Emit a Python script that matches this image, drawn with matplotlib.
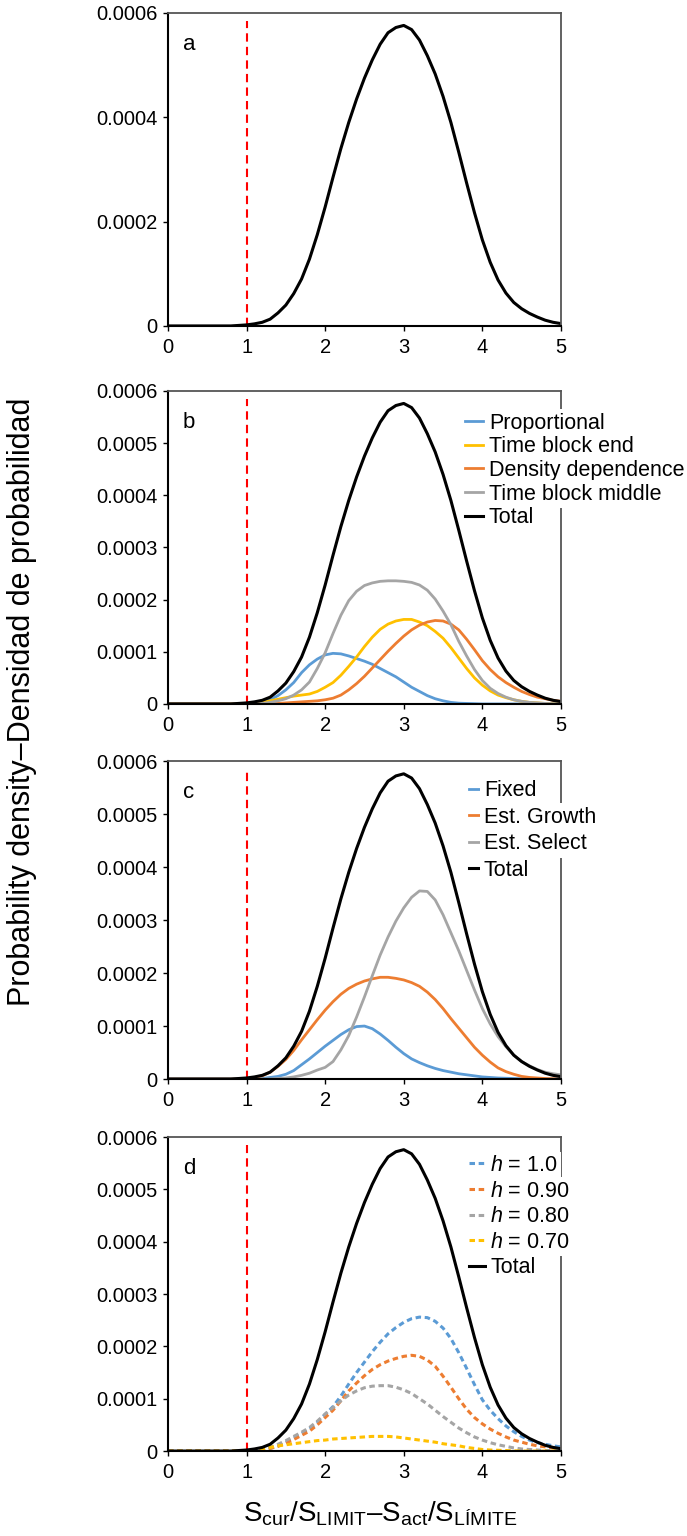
import matplotlib
matplotlib.use("Agg")
import matplotlib.pyplot as plt

plt.rcParams["font.family"] = ["Liberation Sans", "DejaVu Sans"]
plt.rcParams["mathtext.fontset"] = "custom"
plt.rcParams["mathtext.rm"] = "Liberation Sans"
plt.rcParams["mathtext.it"] = "Liberation Sans:italic"

# x grid (step 0.1)
x_vals = [
    0.0, 0.1, 0.2, 0.3, 0.4, 0.5, 0.6, 0.7, 0.8, 0.9,
    1.0, 1.1, 1.2, 1.3, 1.4, 1.5, 1.6, 1.7, 1.8, 1.9,
    2.0, 2.1, 2.2, 2.3, 2.4, 2.5, 2.6, 2.7, 2.8, 2.9,
    3.0, 3.1, 3.2, 3.3, 3.4, 3.5, 3.6, 3.7, 3.8, 3.9,
    4.0, 4.1, 4.2, 4.3, 4.4, 4.5, 4.6, 4.7, 4.8, 4.9,
    5.0,
]

# densities, in units of 1e-4
total = [
    0, 0, 0, 0, 0, 0, 0, 0, 0, 0.01,
    0.02, 0.04, 0.07, 0.13, 0.25, 0.40, 0.62, 0.90, 1.28, 1.75,
    2.28, 2.85, 3.40, 3.90, 4.35, 4.75, 5.10, 5.40, 5.62, 5.72,
    5.76, 5.68, 5.48, 5.18, 4.83, 4.40, 3.90, 3.33, 2.74, 2.17,
    1.65, 1.22, 0.88, 0.63, 0.45, 0.33, 0.24, 0.17, 0.11, 0.07,
    0.045,
]

b_proportional = [
    0, 0, 0, 0, 0, 0, 0, 0, 0, 0,
    0, 0.01, 0.03, 0.08, 0.16, 0.27, 0.41, 0.60, 0.75, 0.86,
    0.94, 0.97, 0.96, 0.92, 0.87, 0.82, 0.76, 0.68, 0.60, 0.52,
    0.42, 0.32, 0.24, 0.16, 0.10, 0.06, 0.03, 0.015, 0.01, 0.005,
    0, 0, 0, 0, 0, 0, 0, 0, 0, 0,
    0,
]
b_time_end = [
    0, 0, 0, 0, 0, 0, 0, 0, 0, 0,
    0, 0.01, 0.03, 0.06, 0.09, 0.12, 0.15, 0.17, 0.19, 0.24,
    0.32, 0.41, 0.55, 0.72, 0.90, 1.10, 1.28, 1.43, 1.53, 1.59,
    1.62, 1.62, 1.57, 1.50, 1.39, 1.26, 1.08, 0.88, 0.68, 0.50,
    0.36, 0.25, 0.17, 0.12, 0.08, 0.05, 0.03, 0.02, 0.01, 0.005,
    0,
]
b_density = [
    0, 0, 0, 0, 0, 0, 0, 0, 0, 0,
    0, 0, 0, 0.01, 0.01, 0.02, 0.03, 0.04, 0.05, 0.06,
    0.08, 0.11, 0.17, 0.27, 0.39, 0.53, 0.69, 0.85, 1.01, 1.16,
    1.30, 1.42, 1.51, 1.57, 1.60, 1.59, 1.53, 1.42, 1.24, 1.04,
    0.83, 0.66, 0.52, 0.41, 0.32, 0.24, 0.18, 0.13, 0.10, 0.07,
    0.05,
]
b_time_mid = [
    0, 0, 0, 0, 0, 0, 0, 0, 0, 0,
    0, 0, 0.01, 0.03, 0.06, 0.10, 0.17, 0.27, 0.42, 0.68,
    0.98, 1.35, 1.70, 1.98, 2.16, 2.27, 2.32, 2.35, 2.36, 2.36,
    2.35, 2.33, 2.28, 2.18, 2.01, 1.78, 1.52, 1.20, 0.92, 0.66,
    0.45, 0.30, 0.20, 0.13, 0.08, 0.05, 0.03, 0.02, 0.01, 0.005,
    0,
]

c_fixed = [
    0, 0, 0, 0, 0, 0, 0, 0, 0, 0,
    0, 0, 0.01, 0.03, 0.05, 0.09, 0.16, 0.27, 0.38, 0.50,
    0.62, 0.73, 0.84, 0.93, 0.99, 1.00, 0.95, 0.85, 0.73, 0.60,
    0.48, 0.38, 0.31, 0.25, 0.20, 0.16, 0.13, 0.10, 0.08, 0.06,
    0.04, 0.03, 0.02, 0.015, 0.01, 0.005, 0, 0, 0, 0,
    0,
]
c_growth = [
    0, 0, 0, 0, 0, 0, 0, 0, 0, 0,
    0.01, 0.03, 0.06, 0.13, 0.24, 0.37, 0.54, 0.74, 0.93, 1.12,
    1.30, 1.46, 1.60, 1.71, 1.79, 1.85, 1.89, 1.92, 1.92, 1.90,
    1.87, 1.82, 1.75, 1.64, 1.50, 1.33, 1.14, 0.96, 0.78, 0.60,
    0.45, 0.32, 0.21, 0.14, 0.09, 0.05, 0.03, 0.02, 0.01, 0.005,
    0,
]
c_select = [
    0, 0, 0, 0, 0, 0, 0, 0, 0, 0,
    0, 0, 0, 0, 0.01, 0.02, 0.04, 0.07, 0.11, 0.17,
    0.22, 0.33, 0.55, 0.82, 1.17, 1.55, 1.95, 2.34, 2.68, 2.98,
    3.23, 3.43, 3.55, 3.54, 3.38, 3.10, 2.76, 2.42, 2.05, 1.68,
    1.33, 1.04, 0.80, 0.61, 0.45, 0.33, 0.25, 0.18, 0.13, 0.10,
    0.08,
]

d_h10 = [
    0, 0, 0, 0, 0, 0, 0, 0, 0, 0,
    0, 0.01, 0.02, 0.05, 0.10, 0.17, 0.25, 0.33, 0.42, 0.55,
    0.70, 0.85, 1.05, 1.28, 1.50, 1.70, 1.90, 2.08, 2.24, 2.36,
    2.46, 2.53, 2.56, 2.55, 2.48, 2.35, 2.15, 1.88, 1.58, 1.27,
    0.98, 0.78, 0.62, 0.48, 0.37, 0.28, 0.21, 0.16, 0.13, 0.10,
    0.08,
]
d_h09 = [
    0, 0, 0, 0, 0, 0, 0, 0, 0, 0,
    0, 0.01, 0.02, 0.05, 0.09, 0.15, 0.22, 0.30, 0.38, 0.50,
    0.64, 0.78, 0.96, 1.15, 1.30, 1.44, 1.56, 1.65, 1.72, 1.77,
    1.81, 1.83, 1.81, 1.74, 1.62, 1.43, 1.22, 1.00, 0.80, 0.64,
    0.52, 0.42, 0.34, 0.27, 0.21, 0.17, 0.13, 0.10, 0.08, 0.06,
    0.04,
]
d_h08 = [
    0, 0, 0, 0, 0, 0, 0, 0, 0, 0,
    0, 0.01, 0.03, 0.07, 0.13, 0.20, 0.28, 0.36, 0.45, 0.57,
    0.71, 0.83, 0.96, 1.07, 1.15, 1.21, 1.24, 1.25, 1.25, 1.22,
    1.17, 1.10, 1.00, 0.90, 0.78, 0.66, 0.55, 0.44, 0.35, 0.27,
    0.21, 0.16, 0.12, 0.09, 0.06, 0.04, 0.03, 0.02, 0.01, 0.01,
    0.005,
]
d_h07 = [
    0, 0, 0, 0, 0, 0, 0, 0, 0, 0,
    0.005, 0.02, 0.04, 0.07, 0.10, 0.12, 0.14, 0.16, 0.18, 0.20,
    0.21, 0.23, 0.24, 0.25, 0.26, 0.27, 0.28, 0.28, 0.28, 0.27,
    0.25, 0.23, 0.21, 0.19, 0.17, 0.14, 0.12, 0.10, 0.07, 0.05,
    0.03, 0.02, 0.015, 0.01, 0.005, 0, 0, 0, 0, 0,
    0,
]

x_ticks = [0, 1, 2, 3, 4, 5]
y_ticks_a = [0, 2, 4, 6]
y_labels_a = ["0", "0.0002", "0.0004", "0.0006"]
y_ticks = [0, 1, 2, 3, 4, 5, 6]
y_labels = ["0", "0.0001", "0.0002", "0.0003", "0.0004", "0.0005", "0.0006"]
limit_line = 1

BLUE = "#5B9BD5"
ORANGE = "#ED7D31"
GRAY = "#A5A5A5"
YELLOW = "#FFC000"
DASHED = (0, (1.8, 1.2))


def style_axes(ax, label, yticks, ylabels):
    ax.set_xlim(0, 5)
    ax.set_ylim(0, 6)
    ax.set_xticks(x_ticks)
    ax.set_xticklabels([str(t) for t in x_ticks])
    ax.set_yticks(yticks)
    ax.set_yticklabels(ylabels)
    ax.tick_params(direction="out", length=3.5, width=1.0, labelsize=14.5, pad=4)
    ax.tick_params(axis="x", pad=5)
    for side in ("left", "bottom"):
        ax.spines[side].set_linewidth(1.5)
        ax.spines[side].set_color("black")
    for side in ("top", "right"):
        ax.spines[side].set_linewidth(1.3)
        ax.spines[side].set_color("#555555")
    ax.axvline(limit_line, ymax=0.975, color="red", lw=1.5, linestyle=(0, (4, 2.5)), zorder=1)
    ax.text(0.038, 0.9, label, transform=ax.transAxes, fontsize=16, ha="left", va="center")


def add_legend(ax, anchor, spacing, handlelength, textpad):
    leg = ax.legend(
        loc="upper left",
        bbox_to_anchor=anchor,
        frameon=False,
        fontsize=15.5,
        borderpad=0,
        borderaxespad=0,
        labelspacing=spacing,
        handlelength=handlelength,
        handletextpad=textpad,
    )
    # white box behind each label, so long labels hide the right spine
    for text in leg.get_texts():
        text.set_bbox(dict(facecolor="white", edgecolor="none", pad=2.5))
    return leg


fig = plt.figure(figsize=(6.87, 15.36), dpi=100)
left, width = 0.2445, 0.572
ax_a = fig.add_axes([left, 0.7878, width, 0.2038])
ax_b = fig.add_axes([left, 0.5417, width, 0.2038])
ax_c = fig.add_axes([left, 0.2975, width, 0.2070])
ax_d = fig.add_axes([left, 0.0553, width, 0.2044])

# a
ax_a.plot(x_vals, total, color="black", lw=2.2)
style_axes(ax_a, "a", y_ticks_a, y_labels_a)

# b
ax_b.plot(x_vals, b_proportional, color=BLUE, lw=2.0, label="Proportional")
ax_b.plot(x_vals, b_time_end, color=YELLOW, lw=2.0, label="Time block end")
ax_b.plot(x_vals, b_density, color=ORANGE, lw=2.0, label="Density dependence")
ax_b.plot(x_vals, b_time_mid, color=GRAY, lw=2.0, label="Time block middle")
ax_b.plot(x_vals, total, color="black", lw=2.2, label="Total")
style_axes(ax_b, "b", y_ticks, y_labels)
add_legend(ax_b, (0.755, 0.93), 0.12, 0.86, 0.27)

# c
ax_c.plot(x_vals, c_fixed, color=BLUE, lw=2.0, label="Fixed")
ax_c.plot(x_vals, c_growth, color=ORANGE, lw=2.0, label="Est. Growth")
ax_c.plot(x_vals, c_select, color=GRAY, lw=2.0, label="Est. Select")
ax_c.plot(x_vals, total, color="black", lw=2.2, label="Total")
style_axes(ax_c, "c", y_ticks, y_labels)
add_legend(ax_c, (0.765, 0.94), 0.26, 0.63, 0.08)

# d
ax_d.plot(x_vals, d_h10, color=BLUE, lw=2.2, linestyle=DASHED, label="$\\mathit{h}$ = 1.0")
ax_d.plot(x_vals, d_h09, color=ORANGE, lw=2.2, linestyle=DASHED, label="$\\mathit{h}$ = 0.90")
ax_d.plot(x_vals, d_h08, color=GRAY, lw=2.2, linestyle=DASHED, label="$\\mathit{h}$ = 0.80")
ax_d.plot(x_vals, d_h07, color=YELLOW, lw=2.2, linestyle=DASHED, label="$\\mathit{h}$ = 0.70")
ax_d.plot(x_vals, total, color="black", lw=2.2, label="Total")
style_axes(ax_d, "d", y_ticks, y_labels)
add_legend(ax_d, (0.765, 0.943), 0.21, 0.86, 0.14)

fig.text(0.032, 0.543, "Probability density\u2013Densidad de probabilidad",
         rotation=90, ha="center", va="center", fontsize=22)
fig.text(0.553, 0.0095,
         "S$_{\\mathregular{cur}}$/S$_{\\mathregular{LIMIT}}$\u2013S$_{\\mathregular{act}}$/S$_{\\mathregular{L\u00cdMITE}}$",
         ha="center", va="baseline", fontsize=20)

fig.savefig("out.png", dpi=100)
